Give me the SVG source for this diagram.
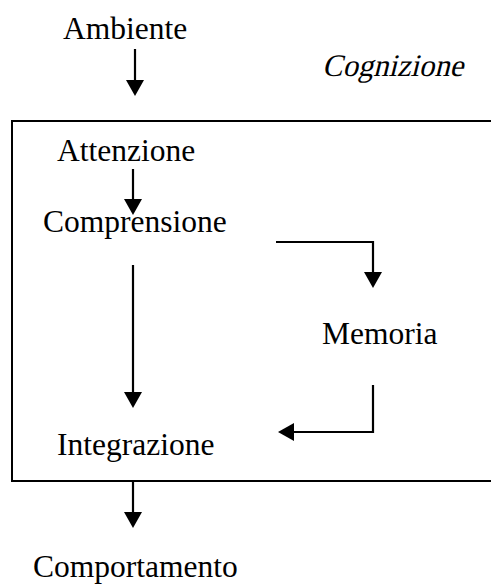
<svg xmlns="http://www.w3.org/2000/svg" width="491" height="585" viewBox="0 0 491 585">
<style>
.t{font-family:"Liberation Serif","Times New Roman","DejaVu Serif",serif;font-size:31.5px;fill:#000}
.c{fill:none;stroke:#000;stroke-width:2.2}
</style>
<defs>
<marker id="ah" markerUnits="userSpaceOnUse" markerWidth="16" markerHeight="18" refX="5" refY="9" orient="auto" viewBox="0 0 16 18">
<path d="M0,0 L16,9 L0,18 z" fill="#000"/>
</marker>
</defs>
<rect x="12" y="121" width="490" height="360" fill="none" stroke="#000" stroke-width="2"/>
<g id="ambiente"><text class="t" x="63" y="39">Ambiente</text></g>
<g id="cognizione"><text class="t" transform="translate(322,76) skewX(-14)" x="0" y="0" textLength="141" lengthAdjust="spacingAndGlyphs">Cognizione</text></g>
<g id="attenzione"><text class="t" x="57" y="161">Attenzione</text></g>
<g id="comprensione"><text class="t" x="43" y="232">Comprensione</text></g>
<g id="memoria"><text class="t" x="322" y="344">Memoria</text></g>
<g id="integrazione"><text class="t" x="57" y="455">Integrazione</text></g>
<g id="comportamento"><text class="t" x="33" y="577">Comportamento</text></g>
<g id="connectors">
<path class="c" d="M135,49 V85" marker-end="url(#ah)"/>
<path class="c" d="M133,169 V204" marker-end="url(#ah)"/>
<path class="c" d="M133,265 V397" marker-end="url(#ah)"/>
<path class="c" d="M276,242 H373 V277" marker-end="url(#ah)"/>
<path class="c" d="M373,385 V432 H289" marker-end="url(#ah)"/>
<path class="c" d="M133,481 V517" marker-end="url(#ah)"/>
</g>
</svg>
